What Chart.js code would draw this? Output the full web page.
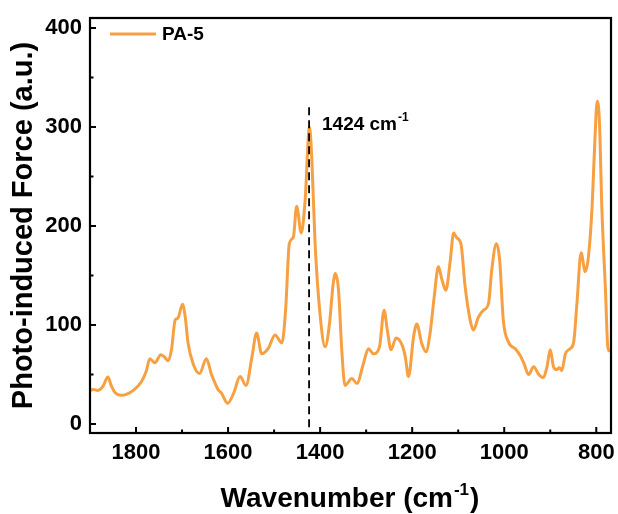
<!DOCTYPE html>
<html>
<head>
<meta charset="utf-8">
<script src="https://cdn.jsdelivr.net/npm/chart.js@4/dist/chart.umd.min.js"></script>
<style>
  html, body { margin: 0; padding: 0; background: #fff; }
  canvas { display: block; }
</style>
</head>
<body>
<canvas id="afm-chart" width="618" height="514"></canvas>
<script>
// PiF-IR spectrum of PA-5
const wavenumbers = [
  1900, 1893, 1883, 1872, 1861, 1854, 1846, 1832, 1821, 1806,
  1788, 1778, 1770, 1759, 1746, 1739, 1730, 1723, 1715, 1709,
  1699, 1693, 1687, 1676, 1662, 1647, 1636, 1628, 1622, 1614,
  1601, 1588, 1574, 1561, 1548, 1538, 1527, 1512, 1498, 1483,
  1475, 1467, 1458, 1451, 1441, 1433, 1423, 1418, 1411, 1400,
  1389, 1380, 1372, 1367, 1360, 1353, 1346, 1331, 1320, 1306,
  1295, 1284, 1271, 1261, 1254, 1246, 1235, 1222, 1215, 1208,
  1197, 1190, 1179, 1170, 1161, 1152, 1143, 1136, 1127, 1117,
  1110, 1103, 1094, 1085, 1074, 1067, 1056, 1045, 1034, 1027,
  1017, 1010, 1002, 991, 976, 965, 957, 947, 936, 925,
  916, 907, 900, 893, 886, 880, 875, 867, 857, 849,
  842, 833, 824, 817, 809, 803, 798, 793, 788, 780,
  775, 771
];
const forces = [
  34, 35, 34, 38, 47.5, 39, 32, 29, 30, 34,
  43, 53, 66, 62, 70, 68, 64, 75, 105, 107,
  121, 108, 82, 61, 51, 66, 50, 41, 35, 31,
  21, 31, 48, 39, 68, 92, 71, 77, 90, 82,
  115, 182, 189, 220, 193, 223, 300, 267, 183, 110,
  78, 100, 140, 152, 135, 75, 39, 46, 41, 61,
  76, 71, 78, 115, 95, 75, 87, 80, 68, 48,
  88, 101, 81, 73, 92, 129, 159, 147, 135, 166,
  193, 188, 182, 139, 105, 95, 108, 115, 122, 156,
  182, 166, 105, 83, 76, 69, 61, 50, 58, 50,
  47, 58, 75, 58, 55, 57, 54, 71, 76, 83,
  122, 173, 154, 169, 220, 287, 326, 304, 220, 135,
  78, 73
];

const xTicks = [1800, 1600, 1400, 1200, 1000, 800];
const xMinorTicks = [1900, 1700, 1500, 1300, 1100, 900];
const yTicks = [0, 100, 200, 300, 400];
const yMinorTicks = [50, 150, 250, 350];

const markWavenumber = 1424;
const markTop = 320;

const LINE_COLOR = 'rgb(247, 160, 66)';
const FONT = '"Liberation Sans", Arial, sans-serif';

// frame, inward ticks, marker line, legend and x title
const decorations = {
  id: 'decorations',
  afterDraw(chart) {
    const { ctx, chartArea: a, scales: { x, y } } = chart;
    ctx.save();

    // dashed marker at 1424
    const mx = x.getPixelForValue(markWavenumber);
    ctx.strokeStyle = '#000';
    ctx.lineWidth = 1.8;
    ctx.setLineDash([8, 5]);
    ctx.beginPath();
    ctx.moveTo(mx, y.getPixelForValue(markTop));
    ctx.lineTo(mx, a.bottom);
    ctx.stroke();
    ctx.setLineDash([]);

    // frame
    ctx.lineWidth = 2.2;
    ctx.strokeRect(a.left, a.top, a.right - a.left, a.bottom - a.top);

    // ticks pointing in
    ctx.lineWidth = 2;
    ctx.beginPath();
    xTicks.forEach(v => {
      const px = x.getPixelForValue(v);
      ctx.moveTo(px, a.bottom); ctx.lineTo(px, a.bottom - 6);
    });
    xMinorTicks.forEach(v => {
      const px = x.getPixelForValue(v);
      ctx.moveTo(px, a.bottom); ctx.lineTo(px, a.bottom - 3.5);
    });
    yTicks.forEach(v => {
      const py = y.getPixelForValue(v);
      ctx.moveTo(a.left, py); ctx.lineTo(a.left + 6, py);
    });
    yMinorTicks.forEach(v => {
      const py = y.getPixelForValue(v);
      ctx.moveTo(a.left, py); ctx.lineTo(a.left + 3.5, py);
    });
    ctx.stroke();

    ctx.fillStyle = '#000';
    ctx.textBaseline = 'alphabetic';

    // peak label
    ctx.textAlign = 'left';
    ctx.font = `bold 19px ${FONT}`;
    const lab = '1424 cm';
    ctx.fillText(lab, 322, 130);
    const lw = ctx.measureText(lab).width;
    ctx.font = `bold 12px ${FONT}`;
    ctx.fillText('-1', 322 + lw + 1, 121);

    // legend
    const ds = chart.data.datasets[0];
    ctx.strokeStyle = ds.borderColor;
    ctx.lineWidth = 2.8;
    ctx.beginPath();
    ctx.moveTo(110, 34); ctx.lineTo(156, 34);
    ctx.stroke();
    ctx.font = `bold 19px ${FONT}`;
    ctx.textBaseline = 'middle';
    ctx.fillText(ds.label, 162, 35);

    // x axis title with superscript
    ctx.textBaseline = 'alphabetic';
    const big = `bold 28px ${FONT}`;
    const small = `bold 17px ${FONT}`;
    const p1 = 'Wavenumber (cm', sup = '-1', p2 = ')';
    ctx.font = big;
    const w1 = ctx.measureText(p1).width, w3 = ctx.measureText(p2).width;
    ctx.font = small;
    const w2 = ctx.measureText(sup).width;
    let tx = 350 - (w1 + w2 + w3 + 2) / 2;
    const base = 507;
    ctx.font = big;
    ctx.fillText(p1, tx, base);
    ctx.font = small;
    ctx.fillText(sup, tx + w1 + 1, base - 12);
    ctx.font = big;
    ctx.fillText(p2, tx + w1 + w2 + 2, base);

    ctx.restore();
  }
};

new Chart(document.getElementById('afm-chart'), {
  type: 'line',
  data: {
    datasets: [{
      label: 'PA-5',
      data: wavenumbers.map((w, i) => ({ x: w, y: forces[i] })),
      borderColor: LINE_COLOR,
      borderWidth: 3,
      pointRadius: 0,
      cubicInterpolationMode: 'monotone',
      fill: false
    }]
  },
  options: {
    responsive: false,
    animation: false,
    events: [],
    layout: { padding: { top: 18, right: 7, left: 0, bottom: 0 } },
    plugins: {
      legend: { display: false },
      tooltip: { enabled: false }
    },
    scales: {
      x: {
        type: 'linear',
        reverse: true,
        min: 768,
        max: 1900,
        afterBuildTicks: s => { s.ticks = xTicks.map(v => ({ value: v })); },
        afterFit: s => { s.height = 81; s.paddingLeft = 0; s.paddingRight = 0; },
        grid: { display: false, drawTicks: false },
        border: { display: false },
        ticks: {
          color: '#000',
          padding: 7,
          maxRotation: 0,
          callback: v => String(v),
          font: { family: FONT, size: 22, weight: 'bold' }
        }
      },
      y: {
        min: -9,
        max: 410,
        afterBuildTicks: s => { s.ticks = yTicks.map(v => ({ value: v })); },
        afterFit: s => { s.width = 90; s.paddingTop = 0; s.paddingBottom = 0; },
        grid: { display: false, drawTicks: false },
        border: { display: false },
        ticks: {
          color: '#000',
          padding: 8,
          callback: v => String(v),
          font: { family: FONT, size: 22, weight: 'bold' }
        },
        title: {
          display: true,
          text: 'Photo-induced Force (a.u.)',
          color: '#000',
          padding: { top: 7, bottom: 0 },
          font: { family: FONT, size: 29, weight: 'bold' }
        }
      }
    }
  },
  plugins: [decorations]
});
</script>
</body>
</html>
